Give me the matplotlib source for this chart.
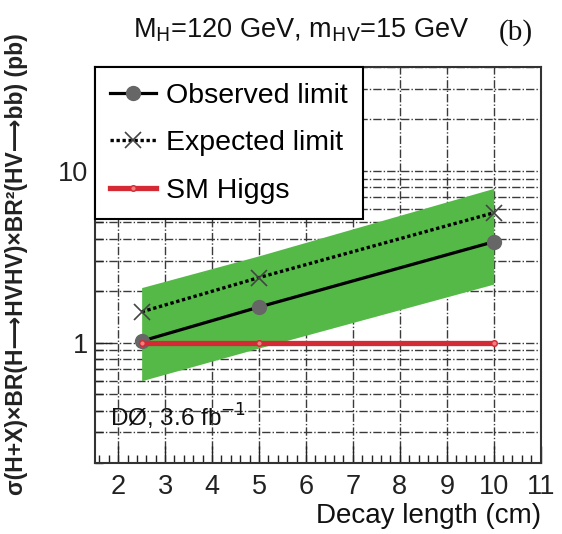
import numpy as np
import matplotlib
matplotlib.use("Agg")
import matplotlib.pyplot as plt
from matplotlib.ticker import FixedLocator, NullFormatter, MultipleLocator, LogLocator

# --- datos ---
decay_len = [2.5, 5, 10]                 # cm
observed = [1.02, 1.61, 3.86]            # pb
expected = [1.51, 2.39, 5.69]            # pb
band_lo = [0.60, 0.93, 2.19]             # +-1 sigma
band_hi = [2.09, 3.20, 7.90]
sm_higgs = [1.0, 1.0, 1.0]

ytick_vals = [1, 10]
ytick_labels = ["1", "10"]
xtick_vals = list(range(2, 12))

SANS = ["Liberation Sans", "DejaVu Sans"]
GRID = dict(color="#3a3a3a", lw=1.0, ls=(0, (6, 1.5, 1, 1.5)))

fig = plt.figure(figsize=(5.62, 5.34), dpi=100)
ax = fig.add_axes([0.1685, 0.1335, 0.7935, 0.7405])
ax.set_axisbelow(True)

ax.fill_between(decay_len, band_lo, band_hi, color="#55b947", lw=0, zorder=1.5)
ax.plot(decay_len, observed, color="black", lw=2.3, marker="o", ms=10,
        mfc="#666666", mec="#666666", zorder=3, label="Observed limit")
ax.plot(decay_len, expected, color="black", lw=2.4, ls=(0, (1, 0.8)),
        marker="x", ms=11, mew=1.2, mec="#444444", zorder=3, label="Expected limit")
ax.plot(decay_len, sm_higgs, color="#d42a35", lw=3.8, marker="o", ms=4,
        mfc="#f08080", mec="#d42a35", zorder=4, label="SM Higgs")

ax.set_yscale("log")
ax.set_xlim(1.5, 11)
ax.set_ylim(0.2, 40)

ax.yaxis.set_major_locator(FixedLocator(ytick_vals))
ax.set_yticklabels(ytick_labels)
ax.yaxis.set_minor_locator(LogLocator(base=10, subs=np.arange(2, 10)))
ax.yaxis.set_minor_formatter(NullFormatter())
ax.xaxis.set_major_locator(FixedLocator(xtick_vals))
ax.xaxis.set_minor_locator(MultipleLocator(0.2))

ax.grid(True, which="major", axis="x", **GRID)
ax.grid(True, which="both", axis="y", **GRID)

ax.tick_params(which="both", direction="in", top=False, right=False,
               labelsize=19.5, colors="#222222", width=1)
ax.tick_params(which="major", length=12)
ax.tick_params(which="minor", length=6)
ax.tick_params(axis="x", pad=8)
ax.tick_params(axis="y", pad=5)
for lab in ax.get_xticklabels() + ax.get_yticklabels():
    lab.set_family(SANS)
for s in ax.spines.values():
    s.set_linewidth(1.5)
    s.set_color("#333333")

ax.set_xlabel("Decay length (cm)", fontsize=20, family=SANS, loc="right",
              labelpad=2, color="#111111")
fig.text(0.03, 0.505, "σ(H+X)×BR(H⟶HVHV)×BR²(HV⟶bb) (pb)", rotation=90,
         ha="center", va="center", fontsize=16.5, fontweight="bold",
         family=SANS, color="#222222")

fig.text(133 / 562, 1 - 37 / 534, r"M$_\mathrm{H}$=120 GeV, m$_\mathrm{HV}$=15 GeV",
         ha="left", va="baseline", fontsize=19.5, family=SANS, color="#111111")
fig.text(0.918, 0.94, "(b)", ha="center", va="center", fontsize=21,
         family=["Liberation Serif", "DejaVu Serif"], color="#111111")

ax.text(0.034, 0.091, r"DØ, 3.6 fb$^{\mathrm{-1}}$", transform=ax.transAxes,
        fontsize=17.5, family=SANS, color="#111111", va="baseline", zorder=5)

leg = ax.legend(loc="upper left", bbox_to_anchor=(0, 1), borderaxespad=0,
                fancybox=False, framealpha=1, edgecolor="black",
                prop={"family": SANS, "size": 20.5}, handlelength=1.6,
                numpoints=1, borderpad=0.55, labelspacing=0.75, handletextpad=0.35)
leg.get_frame().set_linewidth(1.5)
leg.set_zorder(6)

fig.savefig("out.png", dpi=100)
